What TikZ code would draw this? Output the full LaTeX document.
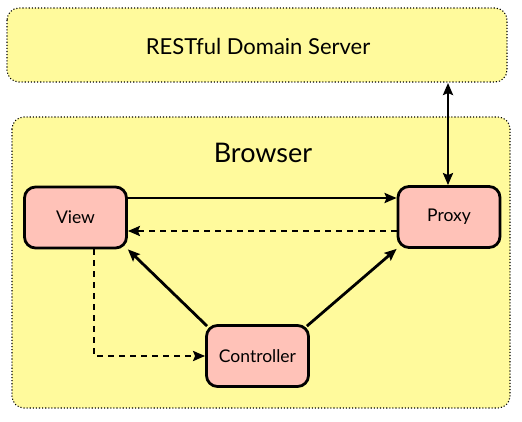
\documentclass[tikz,border=0pt]{standalone}
\usepackage{fontspec}
\setmainfont{Lato}
\usetikzlibrary{arrows.meta}
\definecolor{padyellow}{HTML}{FFFA9C}
\definecolor{boxpink}{HTML}{FFC2B8}
\tikzset{
  region/.style={draw=black, fill=padyellow, dotted, line width=1.1pt, rounded corners=12pt},
  comp/.style={draw=black, fill=boxpink, line width=2.8pt, rounded corners=11pt,
    minimum width=102pt, minimum height=61pt, font=\fontsize{17.5}{20}\selectfont, inner sep=0pt},
  link/.style={line width=2.8pt, -{Stealth[length=12pt,width=10pt,inset=2pt]}},
  dlink/.style={link, dash pattern=on 6pt off 5pt},
}
\begin{document}
\begin{tikzpicture}[x=1pt,y=-1pt]
\useasboundingbox (0,0) rectangle (522,422);
\draw[region] (7,8) rectangle (507,82);
\node (server) at (258,46) {\fontsize{22}{25}\selectfont RESTful Domain Server};
\draw[region] (12,117) rectangle (510,408);
\node (browser) at (263,153) {\fontsize{27}{30}\selectfont Browser};
\node[comp] (view) at (75.5,217.5) {View};
\node[comp] (proxy) at (449,217) {Proxy};
\node[comp] (ctrl) at (257.5,356) {Controller};
\coordinate (va) at (view.east |- 0,198);
\coordinate (pa) at (proxy.west |- 0,198);
\draw[link] (va) -- (pa);
\coordinate (pb) at (proxy.west |- 0,231);
\coordinate (vb) at (view.east |- 0,231);
\draw[dlink] (pb) -- (vb);
\draw[link] (ctrl.north west) ++(2,2) -- (view.south east);
\draw[link] (ctrl.north east) ++(-3,2) -- (proxy.south west);
\coordinate (vd) at (94,249);
\draw[dlink] (vd) |- (ctrl.west);
\coordinate (ps) at (448,83);
\draw[line width=2.8pt, {Stealth[length=12pt,width=10pt,inset=2pt]}-{Stealth[length=12pt,width=10pt,inset=2pt]}] (ps) -- (proxy.north -| ps);
\end{tikzpicture}
\end{document}
